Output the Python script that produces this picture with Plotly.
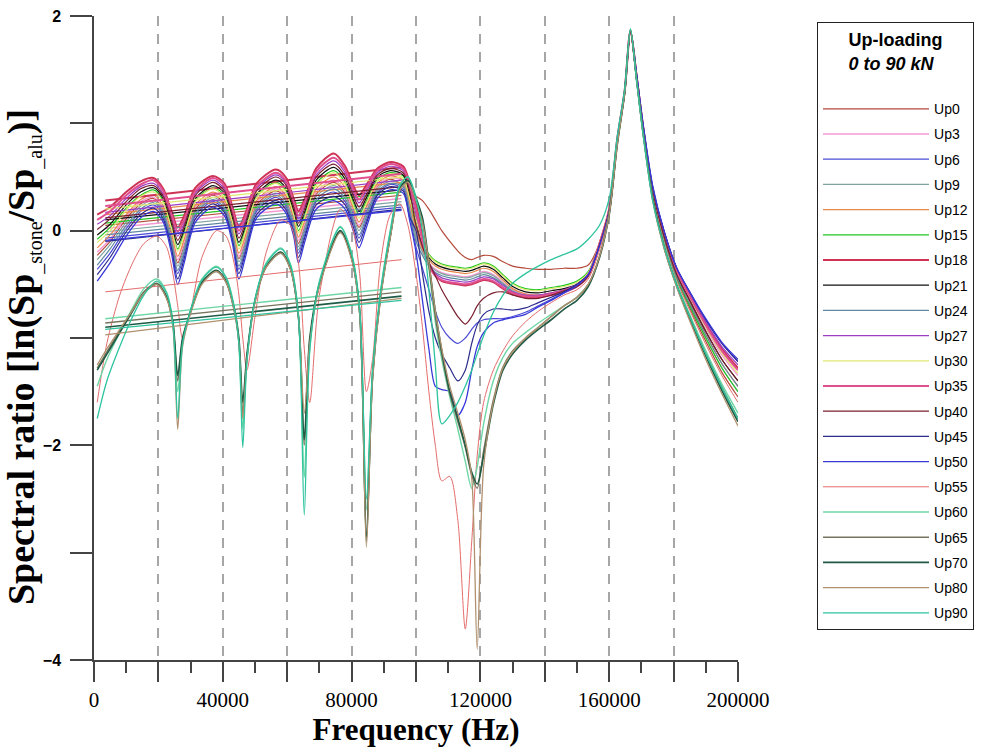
import plotly.graph_objects as go

# ---------------- frequency grids (Hz) ----------------
FREQ_A_LOW = [1000, 5000, 10000, 14500, 18500, 21500, 24000, 26000, 28000, 31500, 37000, 40500,
              43000, 45000, 47000, 50500, 56500, 59500, 62000, 63500, 65500, 69000, 74500, 78000,
              80500, 82300, 84500, 88000, 92000, 96000, 98000]
FREQ_B_LOW = [1000, 4000, 8000, 12000, 15500, 19500, 22500, 24500, 26000, 27500, 30000, 33500,
              38000, 41000, 43500, 45000, 46200, 47500, 50000, 53500, 58000, 61000, 63500, 65300,
              67000, 70000, 76500, 80000, 82500, 84600, 86500, 89000, 92000, 95000, 97500]
FREQ_HIGH = [100000, 102000, 104000, 106000, 108000, 110500, 113000, 115300, 117300, 119000,
             121000, 124000, 127000, 130000, 134000, 138000, 142000, 146000, 150000, 153500,
             157000, 160000, 162500, 164800, 166600, 168500, 170500, 173500, 177000, 181000,
             185000, 190000, 195000, 200000]
FREQ_A = FREQ_A_LOW + FREQ_HIGH
FREQ_B = FREQ_B_LOW + FREQ_HIGH

# straight chord segments present in each record
CHORD_F = [3500, 95500]
CHORD_START = [0.05, 0.02, -0.07, -0.01, 0.15, 0.07, 0.28, 0.10, -0.04, 0.17, 0.20, 0.23, 0.12,
               -0.10, -0.09, -0.57, -0.82, -0.86, -0.90, -0.97, -0.92]
CHORD_END = [0.33, 0.30, 0.22, 0.27, 0.45, 0.36, 0.59, 0.38, 0.24, 0.47, 0.50, 0.53, 0.41,
             0.20, 0.19, -0.27, -0.53, -0.57, -0.61, -0.63, -0.65]

# ---------------- spectral ratio series ----------------
UP0 = [-0.23, -0.10, 0.11, 0.25, 0.30, 0.20, -0.05, -0.30, -0.13, 0.20, 0.33, 0.25, 0.01, -0.26, -0.09, 0.24, 0.37, 0.30, 0.08, -0.12, 0.05, 0.34, 0.45, 0.35, 0.16, 0.03, 0.17, 0.41, 0.48, 0.42, 0.36,
       0.32, 0.28, 0.2, 0.1, 0.0, -0.1, -0.19, -0.25, -0.27, -0.25, -0.23, -0.24, -0.29, -0.33, -0.35, -0.36, -0.36, -0.35, -0.35, -0.32, -0.12, 0.19, 0.84, 1.29, 1.85, 1.42, 0.95, 0.34, -0.08, -0.45, -0.72, -1.03, -1.32, -1.55]
UP3 = [-0.20, -0.08, 0.13, 0.27, 0.31, 0.21, -0.03, -0.27, -0.11, 0.22, 0.34, 0.27, 0.03, -0.24, -0.07, 0.26, 0.39, 0.31, 0.10, -0.09, 0.07, 0.36, 0.47, 0.37, 0.18, 0.05, 0.19, 0.42, 0.49, 0.46, 0.25,
       0.0, -0.18, -0.3, -0.36, -0.39, -0.41, -0.42, -0.43, -0.42, -0.4, -0.38, -0.41, -0.48, -0.55, -0.59, -0.6, -0.58, -0.55, -0.5, -0.4, -0.12, 0.2, 0.85, 1.3, 1.86, 1.43, 0.96, 0.36, -0.03, -0.4, -0.63, -0.91, -1.16, -1.35]
UP6 = [-0.36, -0.21, 0.02, 0.18, 0.24, 0.14, -0.13, -0.40, -0.22, 0.14, 0.27, 0.19, -0.06, -0.36, -0.18, 0.18, 0.31, 0.23, 0.01, -0.21, -0.03, 0.27, 0.36, 0.27, 0.08, -0.07, 0.09, 0.35, 0.43, 0.39, 0.16,
       -0.15, -0.35, -0.55, -0.75, -0.9, -1.0, -1.05, -1.0, -0.92, -0.86, -0.83, -0.82, -0.82, -0.8, -0.76, -0.7, -0.64, -0.58, -0.52, -0.42, -0.14, 0.18, 0.84, 1.3, 1.86, 1.45, 0.98, 0.4, 0.0, -0.35, -0.58, -0.83, -1.05, -1.22]
UP9 = [-0.27, -0.13, 0.08, 0.23, 0.28, 0.18, -0.08, -0.33, -0.16, 0.18, 0.31, 0.24, -0.01, -0.29, -0.12, 0.22, 0.35, 0.28, 0.06, -0.15, 0.03, 0.32, 0.42, 0.33, 0.13, 0.00, 0.15, 0.39, 0.46, 0.43, 0.21,
       -0.05, -0.2, -0.31, -0.37, -0.4, -0.42, -0.43, -0.44, -0.43, -0.41, -0.39, -0.42, -0.49, -0.56, -0.6, -0.61, -0.59, -0.56, -0.51, -0.41, -0.13, 0.19, 0.84, 1.29, 1.85, 1.42, 0.95, 0.35, -0.07, -0.44, -0.7, -1.0, -1.28, -1.5]
UP12 = [-0.16, -0.04, 0.15, 0.29, 0.33, 0.23, -0.01, -0.24, -0.08, 0.24, 0.36, 0.29, 0.05, -0.21, -0.05, 0.28, 0.41, 0.33, 0.12, -0.06, 0.10, 0.39, 0.50, 0.40, 0.21, 0.08, 0.22, 0.44, 0.51, 0.47, 0.27,
        0.0, -0.17, -0.27, -0.33, -0.36, -0.38, -0.39, -0.4, -0.39, -0.37, -0.35, -0.38, -0.46, -0.54, -0.59, -0.6, -0.58, -0.55, -0.5, -0.4, -0.13, 0.19, 0.84, 1.29, 1.85, 1.42, 0.95, 0.35, -0.06, -0.43, -0.68, -0.97, -1.24, -1.45]
UP15 = [-0.08, 0.03, 0.21, 0.33, 0.38, 0.28, 0.05, -0.17, -0.02, 0.28, 0.40, 0.33, 0.09, -0.14, 0.01, 0.32, 0.45, 0.38, 0.17, 0.00, 0.15, 0.44, 0.56, 0.45, 0.26, 0.15, 0.27, 0.48, 0.54, 0.51, 0.32,
        0.05, -0.12, -0.22, -0.28, -0.31, -0.33, -0.34, -0.35, -0.34, -0.32, -0.3, -0.33, -0.41, -0.49, -0.54, -0.55, -0.53, -0.51, -0.47, -0.38, -0.12, 0.2, 0.84, 1.3, 1.86, 1.42, 0.95, 0.35, -0.07, -0.44, -0.7, -1.0, -1.28, -1.5]
UP18 = [0.15, 0.22, 0.36, 0.46, 0.49, 0.39, 0.19, 0.03, 0.14, 0.40, 0.51, 0.44, 0.22, 0.04, 0.16, 0.44, 0.57, 0.50, 0.30, 0.18, 0.30, 0.58, 0.72, 0.60, 0.42, 0.33, 0.42, 0.58, 0.64, 0.60, 0.45,
        0.25, -0.05, -0.3, -0.42, -0.47, -0.49, -0.5, -0.51, -0.5, -0.48, -0.46, -0.48, -0.54, -0.59, -0.62, -0.62, -0.6, -0.57, -0.52, -0.42, -0.12, 0.2, 0.85, 1.3, 1.86, 1.44, 0.97, 0.37, -0.02, -0.37, -0.6, -0.87, -1.1, -1.28]
UP21 = [-0.04, 0.06, 0.24, 0.36, 0.40, 0.30, 0.07, -0.13, 0.01, 0.30, 0.42, 0.35, 0.12, -0.11, 0.04, 0.34, 0.47, 0.40, 0.19, 0.04, 0.18, 0.47, 0.59, 0.48, 0.29, 0.18, 0.30, 0.50, 0.56, 0.52, 0.34,
        0.1, -0.13, -0.25, -0.31, -0.34, -0.36, -0.37, -0.38, -0.37, -0.35, -0.33, -0.36, -0.44, -0.52, -0.57, -0.58, -0.56, -0.54, -0.5, -0.4, -0.12, 0.2, 0.85, 1.3, 1.86, 1.43, 0.96, 0.36, -0.05, -0.41, -0.65, -0.94, -1.2, -1.4]
UP24 = [-0.32, -0.17, 0.05, 0.20, 0.26, 0.16, -0.10, -0.37, -0.19, 0.16, 0.29, 0.21, -0.04, -0.33, -0.15, 0.20, 0.33, 0.25, 0.04, -0.18, 0.00, 0.29, 0.39, 0.30, 0.10, -0.04, 0.12, 0.37, 0.44, 0.41, 0.19,
        -0.1, -0.23, -0.33, -0.39, -0.42, -0.44, -0.45, -0.46, -0.45, -0.43, -0.41, -0.44, -0.5, -0.57, -0.61, -0.61, -0.59, -0.56, -0.51, -0.41, -0.13, 0.19, 0.84, 1.29, 1.85, 1.42, 0.95, 0.35, -0.06, -0.43, -0.68, -0.97, -1.24, -1.45]
UP27 = [0.06, 0.14, 0.30, 0.41, 0.44, 0.34, 0.13, -0.05, 0.07, 0.35, 0.47, 0.39, 0.17, -0.03, 0.10, 0.39, 0.52, 0.45, 0.25, 0.11, 0.24, 0.52, 0.65, 0.54, 0.36, 0.26, 0.36, 0.54, 0.60, 0.56, 0.40,
        0.15, -0.12, -0.3, -0.4, -0.44, -0.46, -0.47, -0.48, -0.47, -0.45, -0.43, -0.45, -0.51, -0.57, -0.6, -0.6, -0.58, -0.55, -0.5, -0.4, -0.12, 0.2, 0.85, 1.3, 1.86, 1.44, 0.97, 0.38, -0.01, -0.36, -0.59, -0.85, -1.08, -1.25]
UP30 = [-0.11, 0.00, 0.19, 0.32, 0.36, 0.26, 0.03, -0.19, -0.04, 0.27, 0.39, 0.31, 0.08, -0.17, -0.01, 0.31, 0.44, 0.36, 0.15, -0.02, 0.13, 0.42, 0.54, 0.43, 0.24, 0.12, 0.25, 0.46, 0.53, 0.49, 0.30,
        0.1, -0.1, -0.23, -0.29, -0.32, -0.34, -0.35, -0.36, -0.35, -0.33, -0.31, -0.34, -0.42, -0.5, -0.55, -0.56, -0.54, -0.52, -0.48, -0.39, -0.11, 0.21, 0.86, 1.3, 1.86, 1.43, 0.96, 0.36, -0.03, -0.39, -0.62, -0.9, -1.14, -1.33]
UP35 = [0.10, 0.18, 0.33, 0.43, 0.47, 0.37, 0.16, -0.01, 0.10, 0.37, 0.49, 0.42, 0.19, 0.00, 0.13, 0.41, 0.54, 0.47, 0.27, 0.14, 0.27, 0.55, 0.68, 0.57, 0.39, 0.29, 0.39, 0.56, 0.62, 0.58, 0.42,
        0.2, -0.1, -0.32, -0.42, -0.46, -0.48, -0.49, -0.5, -0.49, -0.47, -0.45, -0.47, -0.53, -0.58, -0.61, -0.61, -0.59, -0.56, -0.51, -0.41, -0.12, 0.2, 0.85, 1.3, 1.86, 1.44, 0.97, 0.37, -0.02, -0.38, -0.61, -0.88, -1.12, -1.3]
UP40 = [0.01, 0.11, 0.27, 0.39, 0.42, 0.32, 0.10, -0.09, 0.04, 0.33, 0.45, 0.37, 0.15, -0.07, 0.07, 0.37, 0.50, 0.43, 0.22, 0.07, 0.21, 0.50, 0.62, 0.51, 0.33, 0.22, 0.33, 0.52, 0.58, 0.54, 0.37,
        0.05, -0.15, -0.3, -0.42, -0.55, -0.68, -0.8, -0.87, -0.8, -0.7, -0.63, -0.58, -0.57, -0.6, -0.63, -0.63, -0.6, -0.56, -0.52, -0.42, -0.13, 0.19, 0.84, 1.29, 1.85, 1.43, 0.96, 0.36, -0.05, -0.41, -0.65, -0.94, -1.2, -1.4]
UP45 = [-0.41, -0.25, -0.01, 0.15, 0.21, 0.11, -0.16, -0.45, -0.26, 0.11, 0.25, 0.17, -0.09, -0.40, -0.21, 0.15, 0.28, 0.20, -0.02, -0.25, -0.06, 0.24, 0.32, 0.24, 0.04, -0.11, 0.06, 0.33, 0.41, 0.37, 0.13,
        0.0, -0.4, -0.75, -1.0, -1.15, -1.28, -1.4, -1.3, -1.05, -0.88, -0.78, -0.73, -0.73, -0.74, -0.72, -0.67, -0.62, -0.57, -0.5, -0.41, -0.14, 0.18, 0.84, 1.3, 1.86, 1.46, 0.99, 0.41, 0.0, -0.35, -0.57, -0.83, -1.05, -1.22]
UP50 = [-0.47, -0.30, -0.05, 0.12, 0.18, 0.08, -0.20, -0.50, -0.30, 0.08, 0.22, 0.14, -0.12, -0.45, -0.25, 0.12, 0.25, 0.17, -0.05, -0.30, -0.10, 0.20, 0.28, 0.20, 0.00, -0.16, 0.02, 0.30, 0.38, 0.35, 0.10,
        -0.2, -0.65, -1.1, -1.45, -1.48, -1.5, -1.72, -1.6, -1.3, -1.08, -0.95, -0.86, -0.83, -0.81, -0.78, -0.71, -0.65, -0.58, -0.51, -0.41, -0.14, 0.18, 0.84, 1.3, 1.87, 1.46, 1.0, 0.42, 0.0, -0.35, -0.57, -0.82, -1.04, -1.2]
UP55 = [-1.6, -1.05, -0.6, -0.3, -0.12, -0.05, -0.15, -0.4, -0.7, -1.0, -0.75, -0.25, 0.0, -0.05, -0.3, -0.6, -1.0, -1.3, -0.8, -0.2, 0.1, 0.05, -0.3, -1.1, -1.6, -0.6, 0.2, 0.05, -0.4, -1.5, -1.2, -0.3, 0.15, 0.25, 0.05,
        -0.4, -0.9, -1.5, -2.0, -2.33, -2.29, -2.7, -3.71, -2.9, -2.1, -1.6, -1.3, -1.12, -0.98, -0.85, -0.75, -0.67, -0.6, -0.55, -0.45, -0.18, 0.17, 0.83, 1.29, 1.86, 1.42, 0.94, 0.33, -0.1, -0.47, -0.74, -1.06, -1.35, -1.6]
UP60 = [-1.45, -1.2, -0.95, -0.72, -0.54, -0.45, -0.57, -0.85, -1.5, -1.05, -0.74, -0.45, -0.33, -0.43, -0.7, -1.05, -1.85, -1.2, -0.64, -0.3, -0.16, -0.31, -0.78, -2.3, -1.1, -0.47, 0.04, -0.21, -0.72, -2.6, -1.3, -0.56, 0.0, 0.43, 0.5,
        0.32, 0.1, -0.35, -0.85, -1.2, -1.55, -1.85, -2.15, -2.4, -2.2, -1.8, -1.4, -1.18, -1.05, -0.95, -0.86, -0.78, -0.7, -0.62, -0.5, -0.24, 0.16, 0.82, 1.29, 1.88, 1.41, 0.92, 0.31, -0.12, -0.49, -0.78, -1.12, -1.43, -1.7]
UP65 = [-1.28, -1.13, -0.93, -0.74, -0.57, -0.49, -0.61, -0.87, -1.4, -1.02, -0.76, -0.49, -0.38, -0.48, -0.74, -1.03, -1.7, -1.18, -0.66, -0.34, -0.21, -0.36, -0.82, -2.0, -1.03, -0.51, -0.01, -0.26, -0.77, -2.9, -1.38, -0.62, -0.06, 0.39, 0.46,
        0.28, 0.08, -0.32, -0.8, -1.15, -1.52, -1.78, -2.02, -2.28, -2.4, -2.05, -1.58, -1.27, -1.12, -1.0, -0.9, -0.8, -0.7, -0.62, -0.5, -0.24, 0.16, 0.81, 1.28, 1.87, 1.41, 0.92, 0.31, -0.14, -0.51, -0.8, -1.15, -1.46, -1.75]
UP70 = [-1.3, -1.15, -0.95, -0.75, -0.58, -0.5, -0.62, -0.85, -1.35, -1.0, -0.75, -0.48, -0.37, -0.47, -0.72, -1.0, -1.6, -1.15, -0.65, -0.33, -0.2, -0.35, -0.8, -1.95, -1.0, -0.5, 0.0, -0.25, -0.75, -2.85, -1.35, -0.6, -0.05, 0.4, 0.47,
        0.3, 0.12, -0.3, -0.75, -1.12, -1.5, -1.75, -2.0, -2.25, -2.36, -2.1, -1.62, -1.3, -1.15, -1.02, -0.92, -0.83, -0.73, -0.65, -0.52, -0.25, 0.15, 0.8, 1.28, 1.87, 1.41, 0.92, 0.3, -0.15, -0.52, -0.82, -1.17, -1.49, -1.78]
UP80 = [-1.25, -1.1, -0.92, -0.74, -0.58, -0.5, -0.63, -0.9, -1.85, -1.08, -0.77, -0.5, -0.38, -0.48, -0.74, -1.05, -1.75, -1.2, -0.67, -0.34, -0.21, -0.36, -0.8, -1.7, -1.05, -0.52, -0.02, -0.27, -0.78, -2.95, -1.4, -0.63, -0.07, 0.38, 0.45,
        0.28, 0.08, -0.3, -0.75, -1.1, -1.45, -1.7, -1.95, -2.3, -3.9, -2.2, -1.6, -1.28, -1.13, -1.0, -0.9, -0.8, -0.7, -0.62, -0.5, -0.24, 0.15, 0.8, 1.28, 1.87, 1.4, 0.9, 0.28, -0.16, -0.53, -0.84, -1.2, -1.52, -1.82]
UP90 = [-1.75, -1.4, -1.08, -0.8, -0.6, -0.47, -0.58, -0.86, -1.75, -1.05, -0.74, -0.46, -0.34, -0.44, -0.71, -1.05, -2.02, -1.22, -0.64, -0.31, -0.17, -0.32, -0.8, -2.65, -1.12, -0.48, 0.03, -0.22, -0.73, -2.5, -1.3, -0.57, -0.01, 0.42, 0.5,
        0.3, 0.0, -0.55, -1.25, -1.8, -1.72, -1.6, -1.45, -1.3, -1.15, -0.98, -0.76, -0.6, -0.49, -0.4, -0.33, -0.27, -0.22, -0.17, -0.08, 0.05, 0.3, 0.88, 1.32, 1.88, 1.4, 0.9, 0.28, -0.14, -0.51, -0.8, -1.15, -1.46, -1.75]

NAMES = ["Up0", "Up3", "Up6", "Up9", "Up12", "Up15", "Up18", "Up21", "Up24", "Up27", "Up30",
         "Up35", "Up40", "Up45", "Up50", "Up55", "Up60", "Up65", "Up70", "Up80", "Up90"]
SERIES = [UP0, UP3, UP6, UP9, UP12, UP15, UP18, UP21, UP24, UP27, UP30,
          UP35, UP40, UP45, UP50, UP55, UP60, UP65, UP70, UP80, UP90]
GRIDS = [FREQ_A] * 15 + [FREQ_B] * 6
COLORS = ["#b4493a", "#f39ad2", "#4b4bd6", "#7fa39f", "#e8874a", "#22c622", "#cc3355",
          "#111111", "#5f87a0", "#9a3fc6", "#dfe872", "#e0508f", "#7a1f2e", "#2b2b8c",
          "#3838d8", "#e46c6c", "#6fd6a6", "#74745c", "#1f5a45", "#b0906e", "#2ec49e"]
WIDTHS = [1.2, 1.4, 1.2, 1.2, 1.2, 1.2, 2.0, 1.2, 1.2, 1.2, 1.2,
          2.0, 1.2, 1.2, 1.3, 1.0, 1.4, 1.4, 1.6, 1.3, 1.3]

fig = go.Figure()
for name, vals, grid, c0, c1, color, w in zip(NAMES, SERIES, GRIDS, CHORD_START, CHORD_END, COLORS, WIDTHS):
    assert len(vals) == len(grid), (name, len(vals), len(grid))
    fig.add_trace(go.Scatter(
        x=CHORD_F + [None] + grid,
        y=[c0, c1, None] + vals,
        mode="lines", name=name, legendgroup=name,
        line=dict(color=color, width=w, shape="spline", smoothing=0.8),
    ))

AXIS_COLOR = "#444444"
fig.update_layout(
    width=983, height=753, autosize=False,
    margin=dict(l=94, r=245, t=16, b=93, autoexpand=False),
    paper_bgcolor="white", plot_bgcolor="white",
    showlegend=True,
    legend=dict(
        x=1.1227, xanchor="left", y=0.9907, yanchor="top",
        bgcolor="white", bordercolor="#222222", borderwidth=1,
        font=dict(family="Liberation Sans, Arial, sans-serif", size=14, color="black"),
        title=dict(text="<b>Up-loading</b><br><b><i>0 to 90 kN</i></b><br><span style='font-size:27px'> </span>",
                   side="top center",
                   font=dict(family="Liberation Sans, Arial, sans-serif", size=18, color="black")),
        itemwidth=106, tracegroupgap=4, traceorder="grouped",
    ),
    xaxis=dict(
        range=[0, 200000], tickmode="linear", tick0=0, dtick=20000, ticklabelstep=2, tickformat="d",
        ticks="outside", ticklen=20, tickwidth=1.5, tickcolor=AXIS_COLOR,
        tickfont=dict(family="Liberation Serif, Times New Roman, serif", size=21, color="black"),
        showline=True, linecolor=AXIS_COLOR, linewidth=1.5, zeroline=False,
        showgrid=True, gridcolor="#a6a6a6", gridwidth=1.5, griddash="10px,8px",
        minor=dict(tickmode="linear", tick0=0, dtick=10000, ticks="outside", ticklen=11,
                   tickwidth=1.5, tickcolor=AXIS_COLOR, showgrid=False),
        title=dict(text="<b>Frequency (Hz)</b>", standoff=6,
                   font=dict(family="Liberation Serif, Times New Roman, serif", size=31, color="black")),
    ),
    yaxis=dict(
        range=[-4, 2], tickmode="linear", tick0=0, dtick=1, ticklabelstep=2,
        ticks="outside", ticklen=22, tickwidth=1.5, tickcolor=AXIS_COLOR,
        tickfont=dict(family="Liberation Sans, Arial, sans-serif", size=16, color="black", weight="bold"),
        ticklabelstandoff=6,
        showline=True, linecolor=AXIS_COLOR, linewidth=1.5, zeroline=False, showgrid=False,
        title=dict(text="<b>Spectral ratio [ln(Sp</b><sub><span style='font-size:20px'>_stone</span></sub>"
                        "<b>/Sp</b><sub><span style='font-size:20px'>_alu</span></sub><b>)]</b>"
                        "&nbsp;&nbsp;&nbsp;&nbsp;",
                   standoff=0,
                   font=dict(family="Liberation Serif, Times New Roman, serif", size=38, color="black")),
    ),
)

fig.write_html("out.html")
